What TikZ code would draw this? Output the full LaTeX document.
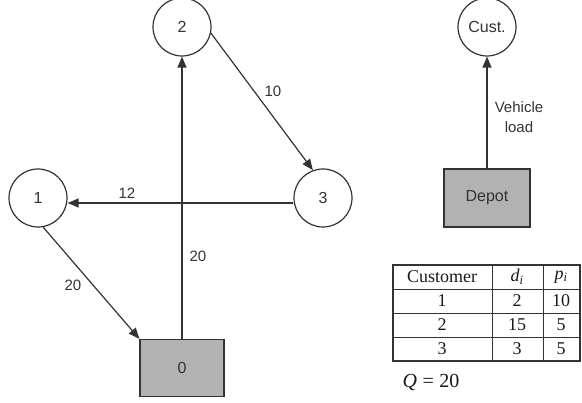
\documentclass[tikz,border=0pt]{standalone}
\usepackage{fontspec}
\setmainfont{Liberation Sans}
\newfontfamily\tabfont{Liberation Serif}
\usetikzlibrary{arrows.meta}
\def\rowsep{24}

\begin{document}
\begin{tikzpicture}[x=1pt, y=-1pt, ->, >={Triangle[length=11pt,width=9pt]},
    line width=1.2pt, color=black!80]
  \tikzstyle{cust}=[circle,draw,minimum size=58pt,inner sep=0pt,font=\fontsize{16}{18}\selectfont]
  \tikzstyle{depot}=[rectangle,draw,fill=black!30,minimum width=84pt,minimum height=57pt,font=\fontsize{16}{18}\selectfont]
  \tikzstyle{cost}=[inner sep=1pt,font=\fontsize{15}{20}\selectfont,align=center]
  \tikzstyle{cell}=[inner sep=0pt,font=\tabfont\fontsize{18}{20}\selectfont,text=black!90]

  \useasboundingbox (0,0) rectangle (582,403);

  % routing network
  \node[depot] (D0) at (182,368) {0};
  \node[cust] (C1) at (38,198) {1};
  \node[cust] (C2) at (182,27) {2};
  \node[cust] (C3) at (323,198) {3};

  \path (D0.north) edge (C2.south);
  \path (C2.-12) edge (C3.110);
  \path ([yshift=-5pt]C3.west) edge ([yshift=-5pt]C1.east);
  \path (C1.-80) edge (D0.north west);

  \node[cost] (L20a) at (198,256) {20};
  \node[cost] (L10) at (273,91) {10};
  \node[cost] (L12) at (127,193) {12};
  \node[cost] (L20b) at (73,285) {20};

  % legend
  \node[cust] (Cust) at (487,27) {Cust.};
  \node[depot, minimum width=86pt, minimum height=58pt] (Depot) at (487,198) {Depot};
  \path (Depot.north) edge (Cust.south);
  \node[cost] (Load) at (519,117) {Vehicle\\load};

  % data table
  \draw[-, line width=1.2pt] (393,265) rectangle (580,361);
  \foreach \y in {289,313,337}
    \draw[-, line width=0.8pt] (393,\y) -- (580,\y);
  \foreach \x in {492,543}
    \draw[-, line width=0.8pt] (\x,265) -- (\x,361);

  \node[cell] (H-1) at (442,277) {Customer};
  \node[cell] (H-2) at (517,277) {{\itshape d}\textsubscript{\itshape i}};
  \node[cell] (H-3) at (561,277) {{\itshape p}\textsubscript{\itshape i}};

  \foreach \r / \d / \p in {1/2/10, 2/15/5, 3/3/5} {
    \node[cell] (T-\r-1) at (442,{277+\rowsep*\r}) {\r};
    \node[cell] (T-\r-2) at (517,{277+\rowsep*\r}) {\d};
    \node[cell] (T-\r-3) at (561,{277+\rowsep*\r}) {\p};
  }

  \node[cell, anchor=west, font=\tabfont\fontsize{20}{22}\selectfont] (Q) at (402,382) {{\itshape Q}\;=\;20};
\end{tikzpicture}
\end{document}
